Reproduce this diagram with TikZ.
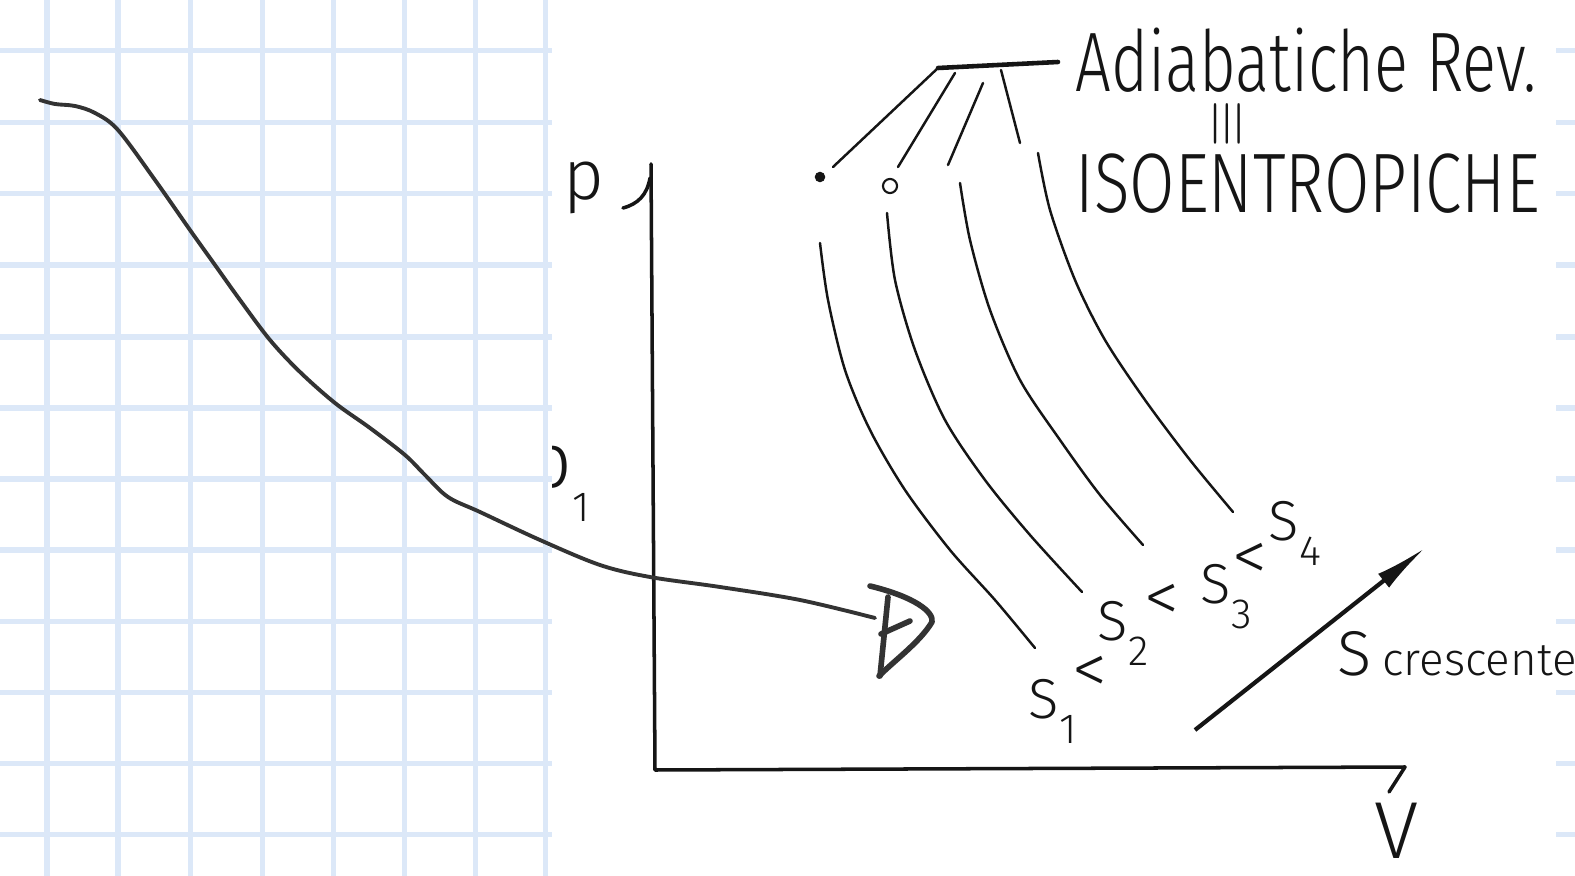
\documentclass[tikz,border=0pt]{standalone}
\usepackage{fontspec}
\setmainfont{Fira Sans}[UprightFont=* Light]
\usetikzlibrary{arrows.meta,positioning,calc}
\definecolor{Grid}{HTML}{DCE8F8}
\definecolor{Ink}{HTML}{151515}
\definecolor{Pen}{HTML}{333333}
\newcommand{\lowsub}[1]{\raisebox{-0.45em}{\fontsize{12}{12}\selectfont #1}}

\begin{document}
\begin{tikzpicture}[x=0.01cm,y=-0.01cm,
  gridline/.style={Grid,line width=0.05cm},
  pen/.style={Pen,line width=1.1pt,line cap=round,line join=round},
  ink/.style={Ink,line width=0.7pt,line cap=round},
  axis/.style={Ink,line width=1pt,line cap=round,line join=round},
  hand/.style={Ink,inner sep=0pt,anchor=base west,font=\fontsize{24}{24}\selectfont},
  slabel/.style={hand,font=\fontsize{16}{16}\selectfont},
  ltsign/.style={Ink,inner sep=0pt,font=\fontsize{20}{20}\selectfont},
  dot/.style={circle,fill=Ink,inner sep=0pt,minimum size=3pt},
  risearrow/.style={-{Latex[length=15pt,width=5pt]},Ink,line width=1.2pt}]
  \useasboundingbox (0,0) rectangle (1575,876);
  \fill[white] (0,0) rectangle (1575,876);
  % label half hidden by the squared sheet
  \begin{scope}
    \clip (552,0) rectangle (700,876);
    \node[hand,font=\fontsize{22}{22}\selectfont] (pone) at (527,487) {p\lowsub{1}};
  \end{scope}
  % squared sheet on the left, margin ticks on the right
  \foreach \gx in {47,118,190,262,333,404,475,545}
    \draw[gridline] (\gx,0) -- (\gx,876);
  \foreach \gy in {51,123,194,265,337,408,479,550,621,692,763,834} {
    \draw[gridline] (0,\gy) -- (552,\gy);
    \draw[gridline] (1556,\gy) -- (1575,\gy);
  }
  % axes
  \coordinate (ptop) at (651,164);
  \coordinate (orig) at (655,770);
  \coordinate (vend) at (1405,767);
  \draw[axis] (ptop) -- (orig) -- (vend);
  \draw[axis] (623,208) .. controls (638,204) and (647,195) .. (650,178);
  \draw[axis] (vend) -- (1389,792);
  \node[hand,font=\fontsize{20}{20}\selectfont] (plab) at (563,200) {p};
  \node[hand,font=\fontsize{23}{23}\selectfont] (vlab) at (1374,858) {V};
  % long curve with its arrowhead
  \coordinate (cstart) at (40,100);
  \coordinate (cend) at (875,618);
  \draw[pen] plot[smooth,tension=0.55] coordinates {(cstart) (55,104) (75,106) (95,113)
    (118,130) (155,180) (190,230) (215,265) (240,300) (270,340) (300,372) (335,403)
    (370,428) (405,455) (425,475) (448,497) (480,512) (540,540) (600,565) (650,577)
    (720,587) (800,600) (cend)};
  \draw[pen,line width=1.6pt] (870,586) .. controls (915,597) and (934,612) .. (932,622)
    .. controls (920,642) and (895,660) .. (879,676);
  \draw[pen,line width=1.6pt] (888,597) -- (880,676);
  \draw[pen,line width=1.6pt] (881,634) -- (910,621);
  % isentropes
  \draw[ink] plot[smooth] coordinates {(820,243) (828,300) (845,370) (870,430) (905,490)
    (950,550) (995,600) (1035,648)};
  \draw[ink] plot[smooth] coordinates {(887,213) (895,280) (915,350) (945,420) (985,480)
    (1030,535) (1082,592)};
  \draw[ink] plot[smooth] coordinates {(960,183) (970,240) (990,310) (1020,380) (1060,440)
    (1100,495) (1143,545)};
  \draw[ink] plot[smooth] coordinates {(1038,153) (1050,210) (1075,280) (1105,340)
    (1145,400) (1190,460) (1233,512)};
  % leaders to the title
  \coordinate (barl) at (938,68);
  \coordinate (barr) at (1058,62);
  \node[dot] (tip1) at (820,177) {};
  \node[circle,draw=Ink,line width=0.6pt,inner sep=0pt,minimum size=4pt] (tip2) at (890,186) {};
  \coordinate (end1) at (833,167);
  \coordinate (end2) at (898,167);
  \coordinate (end3) at (948,165);
  \coordinate (end4) at (1020,143);
  \draw[axis,line width=1.3pt] (barl) -- (barr);
  \draw[ink] (barl) -- (end1);
  \draw[ink] (955,73) -- (end2);
  \draw[ink] (983,83) -- (end3);
  \draw[ink] (1001,70) -- (end4);
  \node[hand,xscale=0.75] (title) at (1075,92) {Adiabatiche Rev.};
  \node[Ink,rotate=90,inner sep=0pt,font=\fontsize{17}{17}\selectfont] (eqv) at (1228,124) {$\equiv$};
  \node[hand,xscale=0.78] (isen) at (1075,213) {ISOENTROPICHE};
  % entropy labels
  \node[slabel] (s1) at (1028,718) {S\lowsub{1}};
  \node[ltsign] (lt1) at (1090,675) {<};
  \node[slabel] (s2) at (1097,640) {S\lowsub{2}};
  \node[ltsign] (lt2) at (1162,603) {<};
  \node[slabel] (s3) at (1200,603) {S\lowsub{3}};
  \node[ltsign] (lt3) at (1250,562) {<};
  \node[slabel] (s4) at (1268,540) {S\lowsub{4}};
  % increasing entropy
  \coordinate (rfrom) at (1195,730);
  \coordinate (rto) at (1425,548);
  \draw[risearrow] (rfrom) -- (rto);
  \node[hand,font=\fontsize{18}{18}\selectfont] (incr) at (1337,675)
    {S\,{\fontsize{13}{13}\selectfont crescente}};
\end{tikzpicture}
\end{document}
